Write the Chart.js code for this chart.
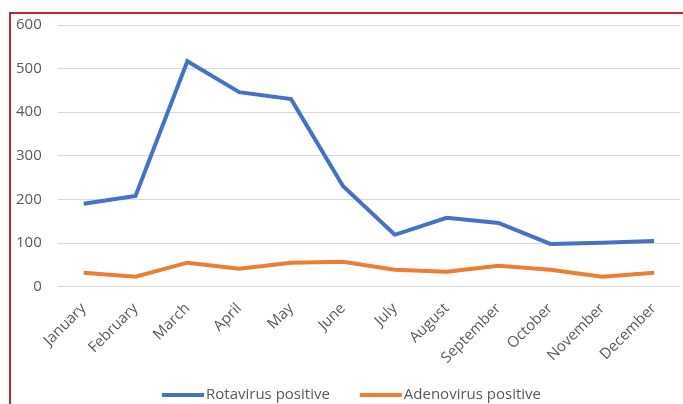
<!DOCTYPE html>
<html><head><meta charset="utf-8">
<script src="https://cdn.jsdelivr.net/npm/chart.js@4"></script>
<style>
html,body{margin:0;padding:0;background:#fff;}
#frame{position:absolute;left:9px;top:12px;width:674px;height:392px;border-top:2px solid #C0282F;border-left:2px solid #C0282F;box-sizing:border-box;}
#wrap{position:absolute;left:0;top:0;width:683px;height:404px;}
</style></head><body>
<div id="frame"></div>
<div id="wrap"><canvas id="c"></canvas></div>
<script>
const months = ["January","February","March","April","May","June","July","August","September","October","November","December"];
const rotavirus = [190,208,517,446,430,231,119,158,146,98,101,105];
const adenovirus = [32,23,55,41,55,57,39,34,48,39,23,32];
const yTicks = [0,100,200,300,400,500,600];
const fontFamily = "'Open Sans', 'Liberation Sans', sans-serif";
const font = {family:fontFamily, size:15};
const bottomLegend = {
  id:'bottomLegend',
  afterDraw(chart){
    const ctx = chart.ctx;
    const ds = chart.data.datasets;
    const boxW = 42, boxH = 4, gap = 2, itemGap = 30, cy = 395;
    ctx.save();
    ctx.font = '15px ' + fontFamily;
    const widths = ds.map(d => boxW + gap + ctx.measureText(d.label).width);
    const total = widths.reduce((a,b)=>a+b,0) + itemGap*(ds.length-1);
    let x = (chart.width - total)/2 + 10;
    ds.forEach((d,i)=>{
      ctx.fillStyle = d.borderColor;
      ctx.fillRect(x, cy - boxH/2, boxW, boxH);
      ctx.fillStyle = '#595959';
      ctx.textBaseline = 'middle';
      ctx.textAlign = 'left';
      ctx.fillText(d.label, x + boxW + gap, cy);
      x += widths[i] + itemGap;
    });
    ctx.restore();
  }
};
new Chart(document.getElementById('c'), {
  type:'line',
  data:{labels:months, datasets:[
    {label:'Rotavirus positive', data:rotavirus, borderColor:'#4472C4', backgroundColor:'#4472C4', borderWidth:4, pointRadius:0, tension:0},
    {label:'Adenovirus positive', data:adenovirus, borderColor:'#ED7D31', backgroundColor:'#ED7D31', borderWidth:4, pointRadius:0, tension:0}
  ]},
  plugins:[bottomLegend],
  options:{
    responsive:true, maintainAspectRatio:false, animation:false,
    layout:{padding:{left:0,right:3,top:24,bottom:32}},
    scales:{
      x:{offset:true, grid:{display:false}, border:{display:false},
         ticks:{color:'#595959', font:font, maxRotation:45, minRotation:45, padding:5}},
      y:{min:0,max:600, afterBuildTicks:(a)=>{a.ticks=yTicks.map(v=>({value:v}));},
         grid:{color:'#d9d9d9', lineWidth:1, drawTicks:false}, border:{display:false},
         ticks:{color:'#595959', font:font, padding:16}}
    },
    plugins:{
      legend:{display:false},
      tooltip:{enabled:false}
    }
  }
});
</script>
</body></html>
